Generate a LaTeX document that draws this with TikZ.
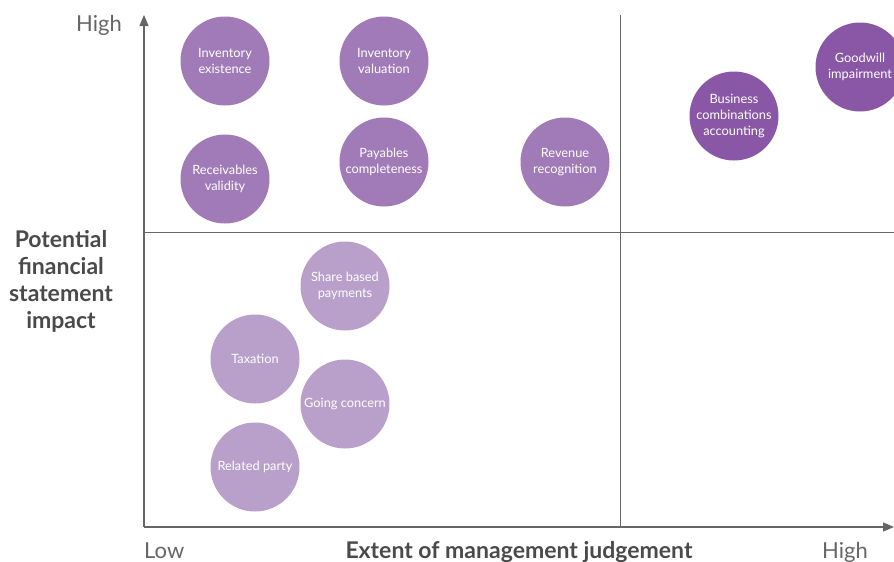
\documentclass[tikz,border=0pt]{standalone}
\usepackage{fontspec}
\setmainfont{Lato}
\usetikzlibrary{arrows.meta}
\definecolor{riskMid}{HTML}{A07BB7}
\definecolor{riskHigh}{HTML}{8957A5}
\definecolor{riskLow}{HTML}{B9A0CB}
\definecolor{axisGrey}{HTML}{666666}
\definecolor{labelGrey}{HTML}{4A4A4A}

\begin{document}
\begin{tikzpicture}[x=1pt,y=-1pt,
  bubble/.style={circle, minimum size=89pt, inner sep=0pt, align=center,
    text=white, font=\fontsize{12.8}{16}\selectfont},
  axislabel/.style={text=labelGrey, font=\bfseries\fontsize{23}{27}\selectfont, align=center},
  ticklabel/.style={text=axisGrey, font=\fontsize{22}{24}\selectfont}]
\useasboundingbox (0,0) rectangle (894,562);
\clip (0,0) rectangle (894,562);
% Axes and quadrant lines
\coordinate (origin) at (144,527);
\coordinate (ytop) at (144,15);
\coordinate (xend) at (894,527);
\coordinate (midtop) at (620,15);
\coordinate (midbot) at (620,527);
\coordinate (midleft) at (144,232);
\coordinate (midright) at (894,232);
\draw[axisGrey, line width=0.8pt] (midtop) -- (midbot);
\draw[axisGrey, line width=0.8pt] (midleft) -- (midright);
\draw[axisGrey, line width=1.4pt, -{Triangle[length=11pt,width=9pt]}] (origin) -- (ytop);
\draw[axisGrey, line width=1.4pt, -{Triangle[length=11pt,width=9pt]}] (origin) -- (xend);
% Bubbles: name/x/y/colour/text
\foreach \n/\x/\y/\c/\t in {
  invexist/225/61/riskMid/{Inventory\\existence},
  invval/384/61/riskMid/{Inventory\\valuation},
  recval/225/179/riskMid/{Receivables\\validity},
  paycomp/384/162/riskMid/{Payables\\completeness},
  revrec/565/162/riskMid/{Revenue\\recognition},
  buscomb/734/116/riskHigh/{Business\\combinations\\accounting},
  goodwill/860/67/riskHigh/{Goodwill\\impairment},
  sharepay/345/286/riskLow/{Share based\\payments},
  tax/255/359/riskLow/{Taxation},
  goingcon/345/404/riskLow/{Going concern},
  relparty/255/467/riskLow/{Related party}} {
  \node[bubble, fill=\c] (\n) at (\x,\y) {\t};
}
% Axis titles
\node[axislabel] (ytitle) at (61,281) {Potential\\financial\\statement\\impact};
\node[axislabel, anchor=base] (xtitle) at (519,558) {Extent of management judgement};
\node[ticklabel, anchor=base west, inner sep=0pt] (xlow) at (144,558) {Low};
\node[ticklabel, anchor=base east, inner sep=0pt] (xhigh) at (868,558) {High};
\node[ticklabel, anchor=base east, inner sep=0pt] (yhigh) at (122,31) {High};
\end{tikzpicture}
\end{document}
